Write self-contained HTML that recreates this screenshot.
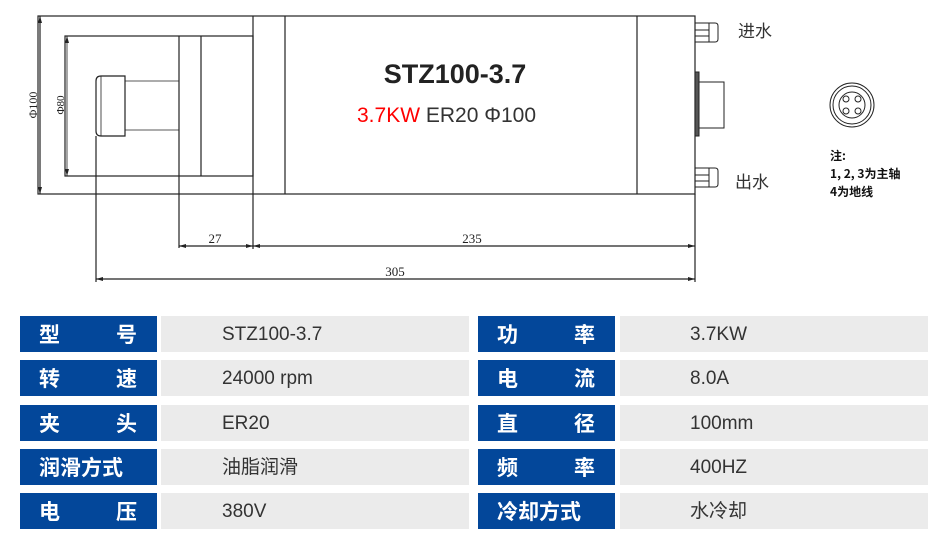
<!DOCTYPE html>
<html><head><meta charset="utf-8"><style>
body{margin:0;width:946px;height:542px;background:#fff;position:relative;overflow:hidden;font-family:"Liberation Sans","Noto Sans CJK SC",sans-serif}
svg{position:absolute;left:0;top:0}
.b{position:absolute;background:#03479a;color:#fff;font-weight:bold;font-size:21px;height:36px;line-height:36px;width:137px;box-sizing:border-box;padding:0 0 0 19px;font-family:"Noto Sans CJK SC",sans-serif}
.b span{position:absolute;right:20px}
.g{position:absolute;background:#ebebeb;color:#333;font-size:19px;height:36px;line-height:38px;box-sizing:border-box;font-family:"Liberation Sans","Noto Sans CJK SC",sans-serif}
</style></head><body>
<svg width="946" height="300" viewBox="0 0 946 300" fill="none" stroke="#222" stroke-width="1.2">
<rect x="38" y="16" width="657" height="178"/>
<line x1="253" y1="16" x2="253" y2="194"/>
<line x1="285" y1="16" x2="285" y2="194"/>
<line x1="637" y1="16" x2="637" y2="194"/>
<rect x="65" y="36" width="188" height="140"/>
<line x1="179" y1="36" x2="179" y2="176"/>
<line x1="201" y1="36" x2="201" y2="176"/>
<line x1="125" y1="81" x2="179" y2="81" stroke-width="0.8"/>
<line x1="125" y1="130" x2="179" y2="130" stroke-width="0.8"/>
<path d="M101 76 H125 V136 H101 Q96 136 96 131 V81 Q96 76 101 76 Z"/>
<line x1="101" y1="76" x2="101" y2="136" stroke-width="0.8"/>
<!-- dims -->
<line x1="96" y1="136" x2="96" y2="282"/>
<line x1="179" y1="176" x2="179" y2="248"/>
<line x1="253" y1="194" x2="253" y2="249"/>
<line x1="695" y1="194" x2="695" y2="282"/>
<line x1="179" y1="246" x2="695" y2="246"/>
<line x1="96" y1="279" x2="695" y2="279"/>
<line x1="40" y1="16" x2="40" y2="194"/>
<line x1="67" y1="36" x2="67" y2="176" stroke-width="0.8"/>
<g fill="#222" stroke="none">
<path d="M179 246 l7 -2 v4z M253 246 l-7 -2 v4z M253 246 l7 -2 v4z M695 246 l-7 -2 v4z M96 279 l7 -2 v4z M695 279 l-7 -2 v4z M40 16 l-2 7 h4z M40 194 l-2 -7 h4z M67 36 l-2 7 h4z M67 176 l-2 -7 h4z"/>
<text x="215" y="243" font-family="Liberation Serif" font-size="13" text-anchor="middle">27</text>
<text x="472" y="243" font-family="Liberation Serif" font-size="13" text-anchor="middle">235</text>
<text x="395" y="276" font-family="Liberation Serif" font-size="13" text-anchor="middle">305</text>
<text transform="translate(37,105) rotate(-90)" font-family="Liberation Serif" font-size="12" text-anchor="middle">Φ100</text>
<text transform="translate(64,105) rotate(-90)" font-family="Liberation Serif" font-size="11" text-anchor="middle">Φ80</text>
<text x="455" y="83" font-size="27" font-weight="bold" text-anchor="middle" fill="#222">STZ100-3.7</text>
<text x="357" y="122" font-size="21"><tspan fill="#f00">3.7KW</tspan><tspan fill="#333"> ER20 Φ100</tspan></text>
<text x="738" y="37" font-family="Noto Sans CJK SC" font-size="17" fill="#333">进水</text>
<text x="735" y="188" font-family="Noto Sans CJK SC" font-size="17" fill="#333">出水</text>
<text font-family="Noto Sans CJK SC" font-size="12" font-weight="bold" fill="#111"><tspan x="830" y="160">注:</tspan><tspan x="830" y="178">1, 2, 3为主轴</tspan><tspan x="830" y="196">4为地线</tspan></text>
</g>
<!-- fittings -->
<g stroke-width="1">
<rect x="695" y="23" width="14" height="19"/><line x1="695" y1="30" x2="709" y2="30"/><line x1="695" y1="36" x2="709" y2="36"/>
<path d="M709 23 h6 q3 0 3 3 v13 q0 3 -3 3 h-6z"/>
<rect x="695" y="168" width="14" height="19"/><line x1="695" y1="175" x2="709" y2="175"/><line x1="695" y1="181" x2="709" y2="181"/>
<path d="M709 168 h6 q3 0 3 3 v13 q0 3 -3 3 h-6z"/>
<rect x="695" y="72" width="4" height="64" fill="#555"/>
<rect x="699" y="82" width="25" height="46"/>
<circle cx="852" cy="105" r="22"/><circle cx="852" cy="105" r="19"/><circle cx="852" cy="105" r="13"/>
<circle cx="846" cy="99" r="3"/><circle cx="858" cy="99" r="3"/><circle cx="846" cy="111" r="3"/><circle cx="858" cy="111" r="3"/>
</g>
</svg>

<div class="b" style="left:20px;top:316px">型<span>号</span></div><div class="g" style="left:161px;top:316px;width:308px;padding-left:61px">STZ100-3.7</div>
<div class="b" style="left:20px;top:360px">转<span>速</span></div><div class="g" style="left:161px;top:360px;width:308px;padding-left:61px">24000 rpm</div>
<div class="b" style="left:20px;top:405px">夹<span>头</span></div><div class="g" style="left:161px;top:405px;width:308px;padding-left:61px">ER20</div>
<div class="b" style="left:20px;top:449px">润滑方式</div><div class="g" style="left:161px;top:449px;width:308px;padding-left:61px">油脂润滑</div>
<div class="b" style="left:20px;top:493px">电<span>压</span></div><div class="g" style="left:161px;top:493px;width:308px;padding-left:61px">380V</div>

<div class="b" style="left:478px;top:316px">功<span>率</span></div><div class="g" style="left:620px;top:316px;width:308px;padding-left:70px">3.7KW</div>
<div class="b" style="left:478px;top:360px">电<span>流</span></div><div class="g" style="left:620px;top:360px;width:308px;padding-left:70px">8.0A</div>
<div class="b" style="left:478px;top:405px">直<span>径</span></div><div class="g" style="left:620px;top:405px;width:308px;padding-left:70px">100mm</div>
<div class="b" style="left:478px;top:449px">频<span>率</span></div><div class="g" style="left:620px;top:449px;width:308px;padding-left:70px">400HZ</div>
<div class="b" style="left:478px;top:493px">冷却方式</div><div class="g" style="left:620px;top:493px;width:308px;padding-left:70px">水冷却</div>
</body></html>
